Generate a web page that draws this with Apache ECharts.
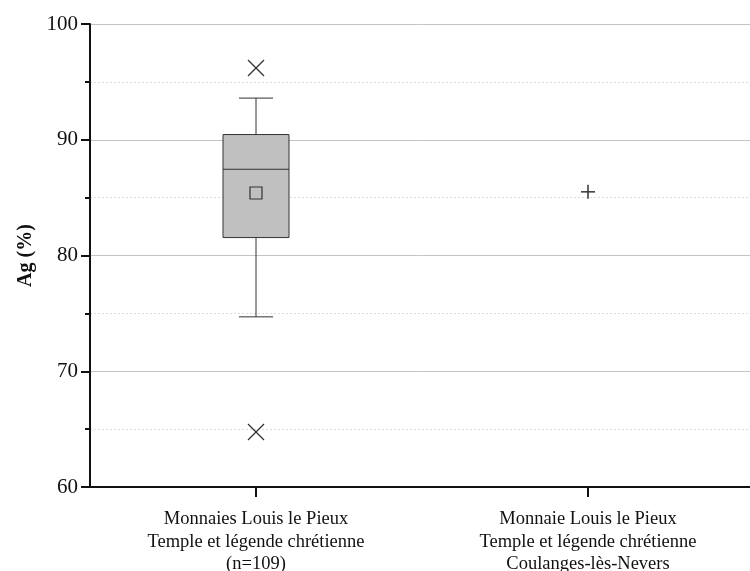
<!DOCTYPE html>
<html>
<head>
<meta charset="utf-8">
<script src="https://cdn.jsdelivr.net/npm/echarts@6/dist/echarts.min.js"></script>
<style>html,body{margin:0;padding:0;background:#fff}#chart{width:750px;height:571px}</style>
</head>
<body>
<div id="chart"></div>
<script>
// ---- data ----
var categories = [
  'Monnaies Louis le Pieux\nTemple et légende chrétienne\n(n=109)',
  'Monnaie Louis le Pieux\nTemple et légende chrétienne\nCoulanges-lès-Nevers'
];
// [categoryIndex, whiskerLow, Q1, median, Q3, whiskerHigh]
var boxStats = [[0, 74.7, 81.55, 87.45, 90.45, 93.6]];
// [categoryIndex, mean]
var means = [[0, 85.4]];
// [categoryIndex, value]  (extreme values, X markers)
var extremes = [[0, 96.2], [0, 64.75]];
// [categoryIndex, value]  (single measurement, + marker)
var singles = [[1, 85.5]];
var yTicks = {min: 60, max: 100, interval: 10};

var chart = echarts.init(document.getElementById('chart'), null, {renderer: 'canvas'});
var dark = '#333';
var serif = '"Liberation Serif", "Times New Roman", serif';

function boxRender(params, api) {
  var x = api.value(0);
  var lo = api.coord([x, api.value(1)]);
  var q1 = api.coord([x, api.value(2)]);
  var md = api.coord([x, api.value(3)]);
  var q3 = api.coord([x, api.value(4)]);
  var hi = api.coord([x, api.value(5)]);
  var cx = lo[0], bw = 33, cw = 17;
  var ls = {stroke: dark, lineWidth: 1};
  return {type: 'group', children: [
    {type: 'line', shape: {x1: cx, y1: q3[1], x2: cx, y2: hi[1]}, style: ls},
    {type: 'line', shape: {x1: cx - cw, y1: hi[1], x2: cx + cw, y2: hi[1]}, style: ls},
    {type: 'line', shape: {x1: cx, y1: q1[1], x2: cx, y2: lo[1]}, style: ls},
    {type: 'line', shape: {x1: cx - cw, y1: lo[1], x2: cx + cw, y2: lo[1]}, style: ls},
    {type: 'rect', shape: {x: cx - bw, y: q3[1], width: 2 * bw, height: q1[1] - q3[1]},
      style: {fill: '#c0c0c0', stroke: dark, lineWidth: 1}},
    {type: 'line', shape: {x1: cx - bw, y1: md[1], x2: cx + bw, y2: md[1]}, style: ls}
  ]};
}
function meanRender(params, api) {
  var p = api.coord([api.value(0), api.value(1)]);
  var s = 6;
  return {type: 'rect', shape: {x: p[0] - s, y: p[1] - s, width: 2 * s, height: 2 * s},
    style: {fill: 'none', stroke: dark, lineWidth: 1.2}};
}
function crossRender(params, api) {
  var p = api.coord([api.value(0), api.value(1)]);
  var s = 8;
  var st = {stroke: dark, lineWidth: 1.2};
  return {type: 'group', children: [
    {type: 'line', shape: {x1: p[0] - s, y1: p[1] - s, x2: p[0] + s, y2: p[1] + s}, style: st},
    {type: 'line', shape: {x1: p[0] - s, y1: p[1] + s, x2: p[0] + s, y2: p[1] - s}, style: st}
  ]};
}
function plusRender(params, api) {
  var p = api.coord([api.value(0), api.value(1)]);
  var s = 7;
  var st = {stroke: dark, lineWidth: 1.5};
  return {type: 'group', children: [
    {type: 'line', shape: {x1: p[0] - s, y1: p[1], x2: p[0] + s, y2: p[1]}, style: st},
    {type: 'line', shape: {x1: p[0], y1: p[1] - s, x2: p[0], y2: p[1] + s}, style: st}
  ]};
}

var option = {
  backgroundColor: '#fff',
  animation: false,
  grid: {left: 90, width: 664, top: 24, height: 463, containLabel: false, outerBoundsMode: 'none'},
  xAxis: {
    type: 'category',
    data: categories,
    boundaryGap: true,
    axisLine: {show: true, lineStyle: {color: '#111', width: 2}},
    axisTick: {show: true, interval: 0, alignWithLabel: true, length: 10, lineStyle: {color: '#111', width: 2}},
    axisLabel: {color: '#111', fontFamily: serif, fontSize: 18.5, lineHeight: 22.5, margin: 21, interval: 0},
    splitLine: {show: false}
  },
  yAxis: {
    type: 'value',
    min: yTicks.min, max: yTicks.max, interval: yTicks.interval,
    name: 'Ag (%)',
    nameLocation: 'middle',
    nameGap: 51,
    nameRotate: 90,
    nameTextStyle: {color: '#111', fontFamily: serif, fontSize: 20, fontWeight: 'bold'},
    axisLine: {show: true, lineStyle: {color: '#111', width: 2}},
    axisTick: {show: true, length: 9, lineStyle: {color: '#111', width: 2}},
    minorTick: {show: true, splitNumber: 2, length: 5, lineStyle: {color: '#111', width: 2}},
    axisLabel: {color: '#111', fontFamily: serif, fontSize: 21, margin: 12},
    splitLine: {show: true, lineStyle: {color: '#c4c4c4', width: 1}},
    minorSplitLine: {show: true, lineStyle: {color: '#dcdcdc', width: 1, type: [2, 2]}}
  },
  series: [
    {type: 'custom', renderItem: boxRender, data: boxStats, encode: {x: 0, y: [1, 2, 3, 4, 5]}, z: 3},
    {type: 'custom', renderItem: meanRender, data: means, encode: {x: 0, y: 1}, z: 4},
    {type: 'custom', renderItem: crossRender, data: extremes, encode: {x: 0, y: 1}, z: 4},
    {type: 'custom', renderItem: plusRender, data: singles, encode: {x: 0, y: 1}, z: 4}
  ]
};
chart.setOption(option);
</script>
</body>
</html>
